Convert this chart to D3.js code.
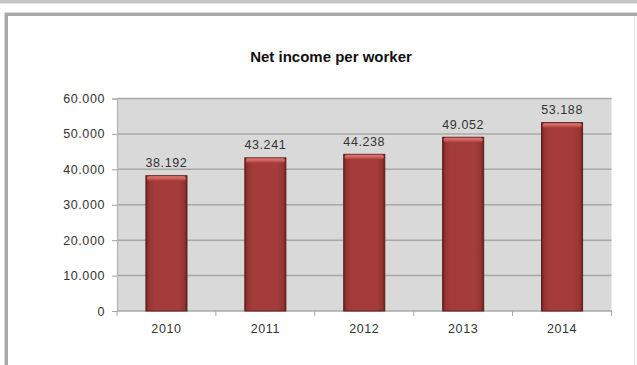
<!DOCTYPE html>
<html>
<head>
<meta charset="utf-8">
<script src="https://cdn.jsdelivr.net/npm/d3@7"></script>
<style>
  html, body { margin: 0; padding: 0; background: #fff; }
  svg { display: block; font-family: Arial, "Liberation Sans", sans-serif; }
</style>
</head>
<body>
<svg id="chart" width="637" height="365"></svg>
<script>
// Net income per worker, by year
const years = ["2010", "2011", "2012", "2013", "2014"];
const netIncome = [38192, 43241, 44238, 49052, 53188];
const yTicks = [0, 10000, 20000, 30000, 40000, 50000, 60000];
const chartTitle = "Net income per worker";

const svg = d3.select("#chart");
const W = 637, H = 365;
const plot = { left: 117, right: 611.5, top: 98.5, bottom: 311 };
const labelFont = 12.5, labelSpacing = 0.6;

// European number style: "." as thousands separator
const locale = d3.formatLocale({ decimal: ",", thousands: ".", grouping: [3], currency: ["", "€"] });
const fmt = locale.format(",d");

const defs = svg.append("defs");

// bar body: darker at the edges, like a bevelled column
const body = defs.append("linearGradient").attr("id", "barBody")
  .attr("x1", 0).attr("x2", 1).attr("y1", 0).attr("y2", 0);
[[0, "#6e2322"], [0.07, "#963533"], [0.2, "#a33c3a"], [0.8, "#a33c3a"], [0.93, "#963533"], [1, "#6e2322"]]
  .forEach(([o, c]) => body.append("stop").attr("offset", o).attr("stop-color", c));

const cap = defs.append("linearGradient").attr("id", "barCap")
  .attr("x1", 0).attr("x2", 0).attr("y1", 0).attr("y2", 1);
[[0, "#e07a75"], [0.5, "#d0605b"], [1, "#a8403d"]]
  .forEach(([o, c]) => cap.append("stop").attr("offset", o).attr("stop-color", c));

// panel frame
svg.append("rect").attr("x", 0).attr("y", 0).attr("width", W).attr("height", 3)
  .attr("fill", "#c4c4c4");
svg.append("rect").attr("x", 0).attr("y", 3).attr("width", W).attr("height", 1)
  .attr("fill", "#e6e6e6");
svg.append("path")
  .attr("d", `M6.5,${H} V14.5 H${W}`)
  .attr("fill", "none").attr("stroke", "#a9a9a9").attr("stroke-width", 3);
svg.append("path")
  .attr("d", `M4.5,${H} V12.5 H${W}`)
  .attr("fill", "none").attr("stroke", "#dcdcdc").attr("stroke-width", 1);
svg.append("line")
  .attr("x1", 634.5).attr("x2", 634.5).attr("y1", 16).attr("y2", H)
  .attr("stroke", "#e2e2e2").attr("stroke-width", 1);

// scales
const x = d3.scaleBand().domain(years)
  .range([plot.left, plot.right])
  .paddingInner(0.585).paddingOuter(0.2925);
const y = d3.scaleLinear().domain([0, 60000]).range([plot.bottom, plot.top]);

// plot background
svg.append("rect")
  .attr("x", plot.left).attr("y", plot.top)
  .attr("width", plot.right - plot.left).attr("height", plot.bottom - plot.top)
  .attr("fill", "#d9d9d9");

// gridlines
svg.append("g").selectAll("line").data(yTicks.filter(d => d > 0)).join("line")
  .attr("x1", plot.left).attr("x2", plot.right)
  .attr("y1", d => y(d)).attr("y2", d => y(d))
  .attr("stroke", "#a8a8a8").attr("stroke-width", 1.5);

// y axis
const yAxis = svg.append("g")
  .attr("transform", `translate(${plot.left},0)`)
  .call(d3.axisLeft(y).tickValues(yTicks).tickFormat(fmt).tickSize(5).tickPadding(7));
yAxis.select(".domain").attr("stroke", "#b4b4b4").attr("stroke-width", 1.2);
yAxis.selectAll(".tick line").attr("stroke", "#a0a0a0");
yAxis.selectAll(".tick text")
  .attr("font-size", labelFont).attr("letter-spacing", labelSpacing)
  .attr("fill", "#333").attr("font-family", "Arial, 'Liberation Sans', sans-serif");

// x axis with ticks at category boundaries
const xAxisG = svg.append("g").attr("transform", `translate(0,${plot.bottom})`);
xAxisG.append("line")
  .attr("x1", plot.left).attr("x2", plot.right)
  .attr("stroke", "#a8a8a8").attr("stroke-width", 1.5);
const step = x.step();
const bounds = d3.range(years.length + 1).map(i => plot.left + i * step);
xAxisG.selectAll("line.b").data(bounds).join("line").attr("class", "b")
  .attr("x1", d => d).attr("x2", d => d).attr("y1", 0).attr("y2", 5)
  .attr("stroke", "#a8a8a8").attr("stroke-width", 1);
xAxisG.selectAll("text").data(years).join("text")
  .attr("x", d => x(d) + x.bandwidth() / 2)
  .attr("y", 21.5)
  .attr("text-anchor", "middle")
  .attr("font-size", labelFont).attr("letter-spacing", labelSpacing).attr("fill", "#333")
  .text(d => d);

// bars
const data = years.map((yr, i) => ({ year: yr, value: netIncome[i] }));
const bars = svg.append("g").selectAll("g").data(data).join("g");
bars.append("rect")
  .attr("x", d => x(d.year)).attr("y", d => y(d.value))
  .attr("width", x.bandwidth()).attr("height", d => y(0) - y(d.value))
  .attr("fill", "url(#barBody)")
  .attr("stroke", "#5a1c1b").attr("stroke-width", 1);
bars.append("rect")
  .attr("x", d => x(d.year) + 1).attr("y", d => y(d.value) + 0.5)
  .attr("width", x.bandwidth() - 2).attr("height", 4.5)
  .attr("rx", 2)
  .attr("fill", "url(#barCap)");

// value labels
bars.append("text")
  .attr("x", d => x(d.year) + x.bandwidth() / 2)
  .attr("y", d => y(d.value) - 8.5)
  .attr("text-anchor", "middle")
  .attr("font-size", labelFont).attr("letter-spacing", labelSpacing).attr("fill", "#333")
  .text(d => fmt(d.value));

// title
svg.append("text")
  .attr("x", 331).attr("y", 62)
  .attr("text-anchor", "middle")
  .attr("font-size", 15).attr("font-weight", "bold").attr("fill", "#111")
  .text(chartTitle);
</script>
</body>
</html>
